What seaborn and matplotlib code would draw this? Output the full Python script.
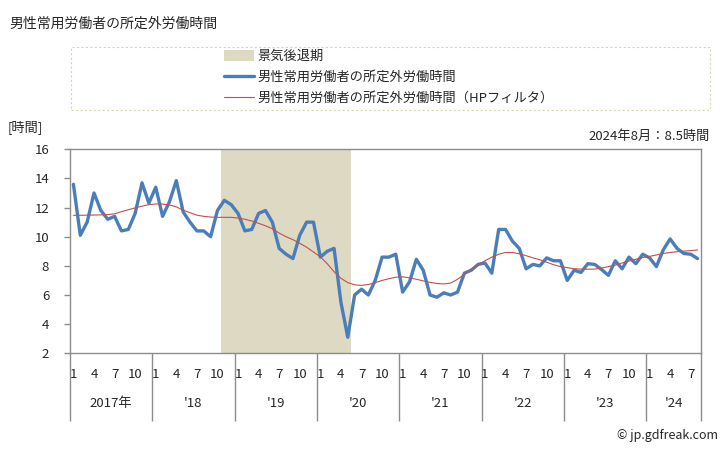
import matplotlib
matplotlib.use("Agg")
import matplotlib.pyplot as plt
import matplotlib.transforms as mtransforms
from matplotlib.patches import Rectangle, Patch
from matplotlib.lines import Line2D
import numpy as np
import pandas as pd
import seaborn as sns

# ---------------- data ----------------
start_year = 2017
n_months = 92  # 2017-01 .. 2024-08
hours = [
    13.6, 10.1, 11.0, 13.0, 11.8, 11.2, 11.4, 10.4, 10.5, 11.6, 13.7, 12.3,   # 2017
    13.4, 11.4, 12.4, 13.85, 11.7, 11.0, 10.4, 10.4, 10.0, 11.8, 12.5, 12.2,  # 2018
    11.6, 10.4, 10.5, 11.6, 11.8, 11.0, 9.2, 8.8, 8.5, 10.1, 11.0, 11.0,      # 2019
    8.6, 9.0, 9.2, 5.5, 3.1, 6.0, 6.4, 6.0, 7.0, 8.6, 8.6, 8.8,               # 2020
    6.2, 6.9, 8.45, 7.7, 6.0, 5.85, 6.15, 6.0, 6.2, 7.5, 7.7, 8.1,            # 2021
    8.2, 7.5, 10.5, 10.5, 9.7, 9.2, 7.8, 8.1, 8.0, 8.55, 8.35, 8.35,          # 2022
    7.0, 7.7, 7.55, 8.15, 8.1, 7.75, 7.35, 8.35, 7.8, 8.6, 8.15, 8.8,         # 2023
    8.55, 7.95, 9.1, 9.85, 9.2, 8.85, 8.8, 8.5,                               # 2024
]
hp_trend = [
    11.47, 11.47, 11.48, 11.49, 11.50, 11.52, 11.57, 11.72, 11.85, 11.98, 12.10, 12.20,
    12.25, 12.24, 12.18, 12.05, 11.82, 11.65, 11.48, 11.40, 11.35, 11.33, 11.33, 11.33,
    11.28, 11.20, 11.08, 10.92, 10.75, 10.55, 10.25, 10.00, 9.80, 9.55, 9.28, 8.95,
    8.62, 8.15, 7.60, 7.15, 6.85, 6.70, 6.66, 6.72, 6.85, 7.00, 7.12, 7.22,
    7.25, 7.18, 7.08, 6.97, 6.87, 6.79, 6.76, 6.82, 7.08, 7.42, 7.78, 8.08,
    8.35, 8.60, 8.80, 8.92, 8.92, 8.83, 8.70, 8.55, 8.42, 8.25, 8.08, 7.95,
    7.88, 7.80, 7.78, 7.77, 7.78, 7.85, 7.95, 8.05, 8.20, 8.33, 8.45, 8.57,
    8.65, 8.75, 8.85, 8.92, 8.97, 9.01, 9.05, 9.09,
]
recession = ((2018, 11), (2020, 5))
month_labels = [1, 4, 7, 10]
year_labels = ["2017年", "'18", "'19", "'20", "'21", "'22", "'23", "'24"]
y_ticks = [2, 4, 6, 8, 10, 12, 14, 16]

title = "男性常用労働者の所定外労働時間"
label_recession = "景気後退期"
label_series = "男性常用労働者の所定外労働時間"
label_hp = "男性常用労働者の所定外労働時間（HPフィルタ）"
unit_label = "[時間]"
latest_note = "2024年8月：8.5時間"
credit = "© jp.gdfreak.com"

# ---------------- style ----------------
sns.set_theme(style="white")
plt.rcParams["font.family"] = ["Noto Sans CJK JP", "DejaVu Sans"]

BLUE = "#4a7ebb"
RED = "#c0504d"
SHADE = "#ddd9c3"
GRAY = "#8c8c8c"
FS = 9.5

idx = np.arange(n_months)
df = pd.DataFrame({
    "idx": idx,
    "hours": hours,
    "hp": hp_trend,
    "month": [(i % 12) + 1 for i in idx],
})

W, H = 728, 451
fig = plt.figure(figsize=(W / 100, H / 100), dpi=100)
ax = fig.add_axes([70 / W, 1 - 353.3 / H, (701 - 70) / W, (353.3 - 149.3) / H])

# recession shading
def to_idx(ym):
    return (ym[0] - start_year) * 12 + ym[1] - 1

ax.axvspan(to_idx(recession[0]) - 0.5, to_idx(recession[1]) + 0.5,
           color=SHADE, lw=0, zorder=0)

sns.lineplot(data=df, x="idx", y="hours", ax=ax, color=BLUE, lw=2.4, zorder=3)
sns.lineplot(data=df, x="idx", y="hp", ax=ax, color=RED, lw=0.8, zorder=4)

ax.set_xlim(-0.5, n_months - 0.5)
ax.set_ylim(2, 16)
ax.set_xlabel("")
ax.set_ylabel("")

# y axis
ax.set_yticks(y_ticks)
ax.set_yticklabels([str(t) for t in y_ticks], fontsize=FS)
ax.tick_params(axis="y", direction="out", length=4, width=1, color=GRAY, pad=11, left=True)

# x axis: major ticks = year separators, minor ticks = month labels
n_years = (n_months + 11) // 12
seps = [-0.5 + 12 * k for k in range(n_years)] + [n_months - 0.5]
ax.set_xticks(seps)
ax.set_xticklabels([""] * len(seps))
ax.tick_params(axis="x", which="major", direction="out", length=49, width=1,
               color=GRAY, bottom=True)
minor_pos = [i for i in idx if df["month"][i] in month_labels]
ax.set_xticks(minor_pos, minor=True)
ax.set_xticklabels([str(df["month"][i]) for i in minor_pos], minor=True, fontsize=FS)
ax.tick_params(axis="x", which="minor", length=0, pad=10.5, bottom=True)

trans = mtransforms.blended_transform_factory(ax.transData, ax.transAxes)
for k, lab in enumerate(year_labels):
    left = -0.5 + 12 * k
    right = min(left + 12, n_months - 0.5)
    ax.text((left + right) / 2, -0.247, lab, transform=trans, ha="center",
            va="center", fontsize=FS)

for s in ax.spines.values():
    s.set_color(GRAY)
    s.set_linewidth(1)
ax.grid(False)

# texts
fig.text(9 / W, 1 - 24 / H, title, fontsize=10, va="center", ha="left")
fig.text(8 / W, 1 - 127 / H, unit_label, fontsize=FS, va="center", ha="left")
fig.text(710 / W, 1 - 136 / H, latest_note, fontsize=FS, va="center", ha="right")
fig.text(718 / W, 1 - 436 / H, credit, fontsize=FS - 0.5, va="center", ha="right")

# legend
handles = [
    Patch(facecolor=SHADE, edgecolor="none"),
    Line2D([], [], color=BLUE, lw=2.4),
    Line2D([], [], color=RED, lw=0.8),
]
labels = [label_recession, label_series, label_hp]
fig.legend(handles, labels, loc="upper left",
           bbox_to_anchor=(224 / W, 1 - 50 / H), frameon=False, fontsize=FS,
           handlelength=2.3, handleheight=0.9, handletextpad=0.2,
           labelspacing=0.6, borderaxespad=0, borderpad=0)
fig.patches.append(Rectangle((71 / W, 1 - 110 / H), 639 / W, 63 / H,
                             transform=fig.transFigure, fill=False,
                             ec="#d9d5b5", lw=0.8, ls=(0, (2, 2))))

fig.savefig("out.png", dpi=100)
